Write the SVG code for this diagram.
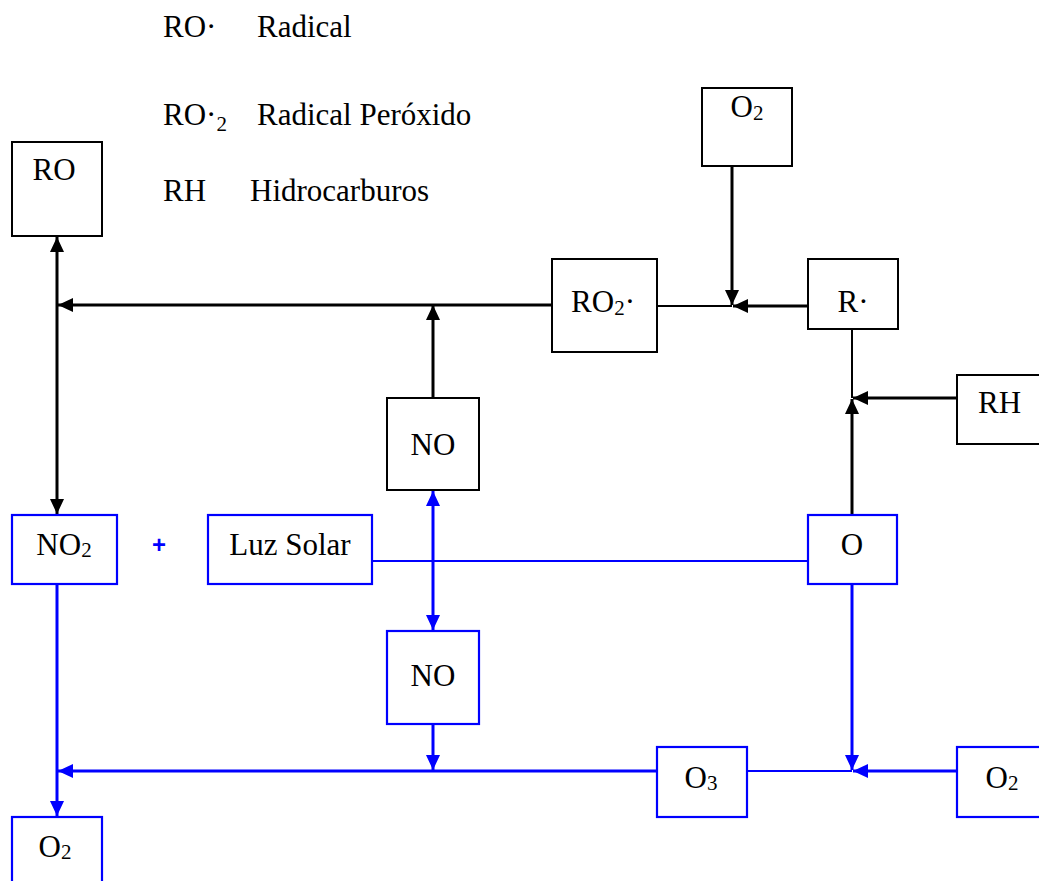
<svg xmlns="http://www.w3.org/2000/svg" width="1039" height="881" viewBox="0 0 1039 881">
<style>
text{font-family:"Liberation Serif","Times New Roman",serif;font-size:31px;fill:#000}
.bb{fill:#fff;stroke:#000;stroke-width:2}
.ub{fill:#fff;stroke:#0000ff;stroke-width:2.2}
.k{stroke:#000;stroke-width:3;fill:none}
.kt{stroke:#000;stroke-width:2;fill:none}
.u{stroke:#0000ff;stroke-width:3;fill:none}
.ut{stroke:#0000ff;stroke-width:2;fill:none}
.sub{font-size:21px}
.plus{font-family:"Liberation Sans",Arial,sans-serif;font-weight:bold;font-size:24px;fill:#0000ff}
</style>
<defs>
<marker id="ak" viewBox="0 0 15 14" refX="15" refY="7" markerWidth="15" markerHeight="14" markerUnits="userSpaceOnUse" orient="auto-start-reverse"><path d="M0,0 L15,7 L0,14 z" fill="#000"/></marker>
<marker id="au" viewBox="0 0 15 14" refX="15" refY="7" markerWidth="15" markerHeight="14" markerUnits="userSpaceOnUse" orient="auto-start-reverse"><path d="M0,0 L15,7 L0,14 z" fill="#0000ff"/></marker>
</defs>

<g id="legend">
<text x="163" y="37">RO·</text><text x="257" y="37">Radical</text>
<text x="163" y="125">RO·<tspan class="sub" dy="6">2</tspan></text><text x="257" y="125">Radical Peróxido</text>
<text x="163" y="201">RH</text><text x="250" y="201">Hidrocarburos</text>
</g>

<g id="connectors">
<line class="k" x1="57" y1="237" x2="57" y2="514" marker-start="url(#ak)" marker-end="url(#ak)"/>
<line class="k" x1="552" y1="305" x2="58" y2="305" marker-end="url(#ak)"/>
<line class="k" x1="433" y1="398" x2="433" y2="305" marker-end="url(#ak)"/>
<line class="kt" x1="657" y1="306" x2="732" y2="306"/>
<line class="k" x1="732" y1="166" x2="732" y2="305" marker-end="url(#ak)"/>
<line class="k" x1="808" y1="306" x2="733" y2="306" marker-end="url(#ak)"/>
<line class="kt" x1="852" y1="329" x2="852" y2="398"/>
<line class="k" x1="957" y1="398" x2="853" y2="398" marker-end="url(#ak)"/>
<line class="k" x1="852" y1="515" x2="852" y2="399" marker-end="url(#ak)"/>
<line class="ut" x1="372" y1="561" x2="808" y2="561"/>
<line class="u" x1="433" y1="491" x2="433" y2="630" marker-start="url(#au)" marker-end="url(#au)"/>
<line class="u" x1="433" y1="724" x2="433" y2="770" marker-end="url(#au)"/>
<line class="u" x1="657" y1="771" x2="58" y2="771" marker-end="url(#au)"/>
<line class="u" x1="57" y1="584" x2="57" y2="816" marker-end="url(#au)"/>
<line class="ut" x1="747" y1="771" x2="852" y2="771"/>
<line class="u" x1="852" y1="584" x2="852" y2="770" marker-end="url(#au)"/>
<line class="u" x1="957" y1="771" x2="853" y2="771" marker-end="url(#au)"/>
</g>

<g id="RO"><rect class="bb" x="12" y="142" width="90" height="94"/><text x="54" y="180" text-anchor="middle">RO</text></g>
<g id="O2top"><rect class="bb" x="702" y="88" width="90" height="78"/><text x="747" y="117" text-anchor="middle">O<tspan class="sub" dy="3">2</tspan></text></g>
<g id="RO2"><rect class="bb" x="552" y="259" width="105" height="93"/><text x="603" y="312" text-anchor="middle">RO<tspan class="sub" dy="3">2</tspan><tspan dy="-3">·</tspan></text></g>
<g id="R"><rect class="bb" x="808" y="259" width="90" height="70"/><text x="853" y="312" text-anchor="middle">R·</text></g>
<g id="RH"><rect class="bb" x="957" y="375" width="90" height="69"/><text x="978" y="413">RH</text></g>
<g id="NOup"><rect class="bb" x="387" y="398" width="92" height="92"/><text x="433" y="455" text-anchor="middle">NO</text></g>
<g id="NO2"><rect class="ub" x="12" y="515" width="105" height="69"/><text x="64" y="555" text-anchor="middle">NO<tspan class="sub" dy="2">2</tspan></text></g>
<g id="plus"><text class="plus" x="159" y="553" text-anchor="middle">+</text></g>
<g id="LuzSolar"><rect class="ub" x="208" y="515" width="164" height="69"/><text x="290" y="555" text-anchor="middle">Luz Solar</text></g>
<g id="O"><rect class="ub" x="808" y="515" width="89" height="69"/><text x="852" y="555" text-anchor="middle">O</text></g>
<g id="NOlow"><rect class="ub" x="387" y="631" width="92" height="93"/><text x="433" y="686" text-anchor="middle">NO</text></g>
<g id="O3"><rect class="ub" x="657" y="747" width="90" height="70"/><text x="701" y="788" text-anchor="middle">O<tspan class="sub" dy="2">3</tspan></text></g>
<g id="O2right"><rect class="ub" x="957" y="747" width="90" height="70"/><text x="1002" y="788" text-anchor="middle">O<tspan class="sub" dy="2">2</tspan></text></g>
<g id="O2bottom"><rect class="ub" x="12" y="817" width="90" height="80"/><text x="55" y="857" text-anchor="middle">O<tspan class="sub" dy="2">2</tspan></text></g>
</svg>
